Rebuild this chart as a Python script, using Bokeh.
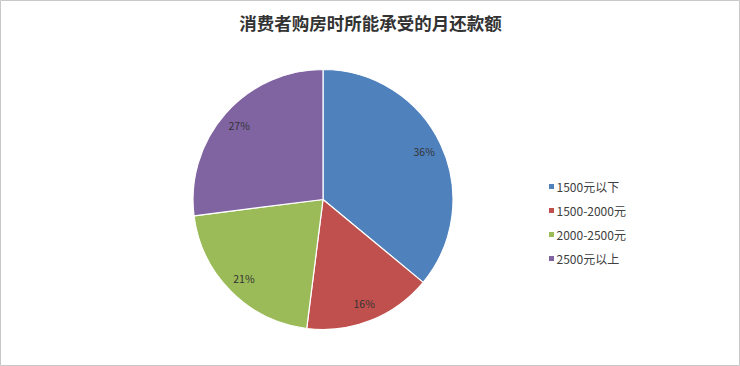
from math import cos, pi, sin

from bokeh.core.properties import value
from bokeh.embed import file_html
from bokeh.models import ColumnDataSource
from bokeh.plotting import figure
from bokeh.resources import INLINE

# Monthly repayment buyers can afford (share of respondents, %)
title = "消费者购房时所能承受的月还款额"
categories = ["1500元以下", "1500-2000元", "2000-2500元", "2500元以上"]
shares = [36, 16, 21, 27]
colors = ["#4F81BD", "#C0504D", "#9BBB59", "#8064A2"]

W, H = 740, 366
cx, cy, R = 322.5, 167.0, 130.0
label_r = 0.86 * R
font = "Noto Sans CJK SC"

total = float(sum(shares))
starts, ends, lx, ly, texts = [], [], [], [], []
cum = 0.0
for s in shares:
    a0 = pi / 2 - 2 * pi * cum / total          # clockwise from 12 o'clock
    a1 = pi / 2 - 2 * pi * (cum + s) / total
    starts.append(a1)
    ends.append(a0)
    mid = (a0 + a1) / 2
    lx.append(cx + label_r * cos(mid))
    ly.append(cy + label_r * sin(mid))
    texts.append(f"{s}%")
    cum += s

src = ColumnDataSource(dict(start=starts, end=ends, color=colors,
                            lx=lx, ly=ly, text=texts, cat=categories))

p = figure(width=W, height=H, x_range=(0, W), y_range=(0, H),
           output_backend="svg", toolbar_location=None,
           min_border=0, background_fill_color="white",
           border_fill_color="white")
p.axis.visible = False
p.grid.visible = False
p.outline_line_color = "#c8c8c8"
p.outline_line_width = 1

p.wedge(x=cx, y=cy, radius=R, start_angle="start", end_angle="end",
        fill_color="color", line_color="white", line_width=1.2, source=src)

p.text(x="lx", y="ly", text="text", source=src, text_font=value(font),
       text_font_size="10.5px", text_color="#333333",
       text_align="center", text_baseline="middle")

# title
p.text(x=[370], y=[H - 22], text=[title], text_font=value(font),
       text_font_size="17.5px", text_font_style="bold", text_color="#333333",
       text_align="center", text_baseline="middle")

# legend
leg_y = [H - 186 - 24 * i for i in range(len(categories))]
p.scatter(x=[551] * len(categories), y=leg_y, marker="square", size=5,
          fill_color=colors, line_color=None)
p.text(x=[556] * len(categories), y=leg_y, text=categories,
       text_font=value(font), text_font_size="12px", text_color="#404040",
       text_align="left", text_baseline="middle")

open("out.html", "w").write(file_html(p, INLINE))
